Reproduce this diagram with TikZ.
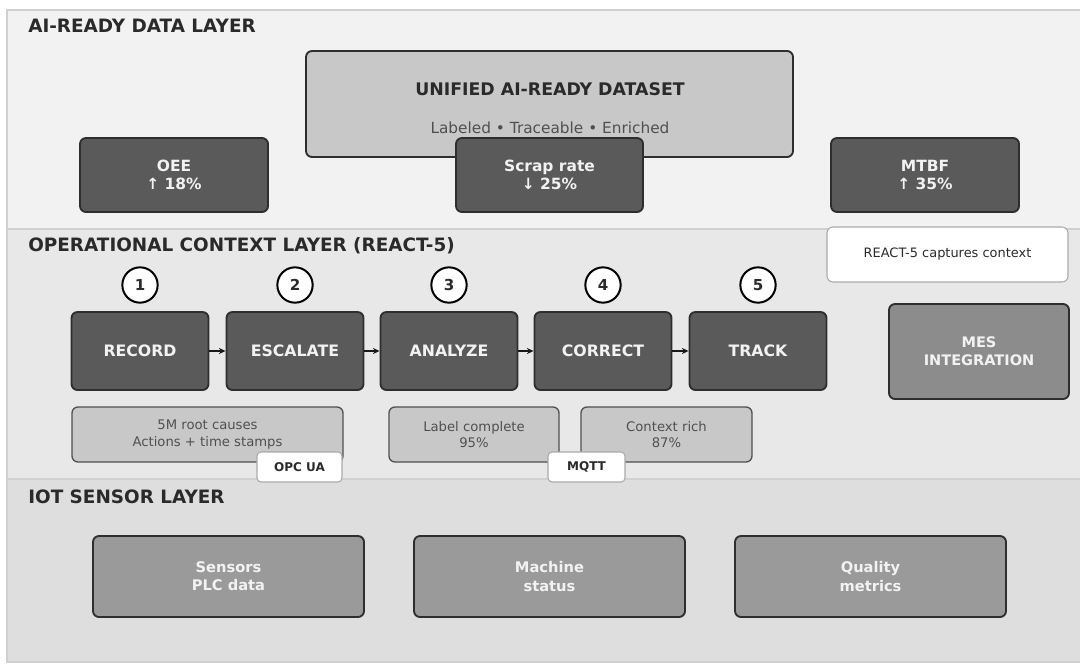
\documentclass[tikz,border=0pt]{standalone}
\usepackage{fontspec}
\setmainfont{DejaVu Sans}
\usetikzlibrary{arrows.meta}

\definecolor{bandtop}{HTML}{F2F2F2}
\definecolor{bandmid}{HTML}{E8E8E8}
\definecolor{bandlow}{HTML}{DEDEDE}
\definecolor{bandline}{HTML}{D0D0D0}
\definecolor{darkfill}{HTML}{5A5A5A}
\definecolor{midfill}{HTML}{8C8C8C}
\definecolor{lowfill}{HTML}{9A9A9A}
\definecolor{lightfill}{HTML}{C8C8C8}
\definecolor{edge}{HTML}{2E2E2E}
\definecolor{softedge}{HTML}{505050}
\definecolor{ink}{HTML}{2A2A2A}
\definecolor{softink}{HTML}{505050}
\definecolor{paleink}{HTML}{F2F2F2}
\definecolor{tagedge}{HTML}{AAAAAA}

\newcommand\fsz[2]{\fontsize{#1pt}{#2pt}\selectfont}

\tikzset{
  % place a box by its left, top, right and bottom edges (in picture units)
  span/.style n args={4}{
    minimum width={(#3-#1)*0.75pt}, minimum height={(#4-#2)*0.75pt},
    at={({(#1+#3)/2},{(#2+#4)/2})}, anchor=center},
  band/.style={fill=#1, draw=bandline, line width=0.9pt},
  layertitle/.style={anchor=base west, inner sep=0pt, text=ink, font=\fsz{13.8}{16}\bfseries},
  box/.style={rounded corners=4.5pt, inner sep=0pt, align=center, draw=edge, line width=1.4pt},
  datasetbox/.style={box, fill=lightfill},
  metric/.style={box, fill=darkfill, text=paleink, font=\fsz{11.6}{13}\bfseries},
  stepbox/.style={box, fill=darkfill, text=paleink, font=\fsz{11.8}{14}\bfseries},
  mesbox/.style={box, fill=midfill, text=paleink, font=\fsz{10.9}{13.5}\bfseries},
  sensorbox/.style={box, fill=lowfill, text=paleink, font=\fsz{11}{13.6}\bfseries},
  detailbox/.style={box, fill=lightfill, draw=softedge, line width=1pt, text=softink, font=\fsz{9.9}{12.4}},
  callout/.style={box, fill=white, draw=tagedge, line width=0.8pt, text=ink, font=\fsz{9.7}{12}},
  tag/.style={box, rounded corners=3pt, fill=white, draw=tagedge, line width=0.8pt, text=ink, font=\fsz{9}{11}\bfseries},
  stepnum/.style={circle, fill=white, draw=black, line width=1.5pt, minimum size=26.5pt, inner sep=0pt, text=ink, font=\fsz{11.3}{13}\bfseries},
  flowarrow/.style={draw=black!90, line width=1.2pt, -{Stealth[length=5pt, width=4.5pt]}},
}

\begin{document}
\begin{tikzpicture}[x=0.75pt, y=-0.75pt]
  \useasboundingbox[fill=white] (0,0) rectangle (1080,667);

  % layer bands
  \draw[band=bandtop] (7,10) rectangle (1085,229);
  \draw[band=bandmid] (7,229) rectangle (1085,479);
  \draw[band=bandlow] (7,479) rectangle (1085,662);

  \node[layertitle] (t1) at (28,33) {AI-READY DATA LAYER};
  \node[layertitle] (t2) at (28,251.5) {OPERATIONAL CONTEXT LAYER (REACT-5)};
  \node[layertitle] (t3) at (28,503.5) {IOT SENSOR LAYER};

  % AI-ready data layer
  \node[datasetbox, span={306}{51}{793}{157}] (ds) {};
  \node[inner sep=0pt, text=ink, font=\fsz{13}{15}\bfseries] (dstitle) at (550,89) {UNIFIED AI-READY DATASET};
  \node[inner sep=0pt, text=softink, font=\fsz{11.5}{14}] (dssub) at (550,128) {Labeled • Traceable • Enriched};

  \node[metric, span={80}{138}{268}{212}] (oee) {OEE\\↑ 18\%};
  \node[metric, span={456}{138}{643}{212}] (scrap) {Scrap rate\\↓ 25\%};
  \node[metric, span={831}{138}{1019}{212}] (mtbf) {MTBF\\↑ 35\%};

  % operational context layer
  \node[callout, span={827}{227}{1068}{282}] (note) {REACT-5 captures context};

  \foreach \i/\cx in {1/140,2/295,3/449,4/603,5/758}
    \node[stepnum] (n\i) at (\cx,285) {\i};

  \node[stepbox, span={71.5}{312}{208.5}{390}] (s1) {RECORD};
  \node[stepbox, span={226.5}{312}{363.5}{390}] (s2) {ESCALATE};
  \node[stepbox, span={380.5}{312}{517.5}{390}] (s3) {ANALYZE};
  \node[stepbox, span={534.5}{312}{671.5}{390}] (s4) {CORRECT};
  \node[stepbox, span={689.5}{312}{826.5}{390}] (s5) {TRACK};

  \draw[flowarrow] (s1) -- (s2);
  \draw[flowarrow] (s2) -- (s3);
  \draw[flowarrow] (s3) -- (s4);
  \draw[flowarrow] (s4) -- (s5);

  \node[mesbox, span={889}{304}{1069}{399}] (mes) {MES\\INTEGRATION};

  \node[detailbox, span={72}{407}{343}{462}] (d1) {5M root causes\\Actions + time stamps};
  \node[detailbox, span={389}{407}{559}{462}] (d2) {Label complete\\95\%};
  \node[detailbox, span={581}{407}{752}{462}] (d3) {Context rich\\87\%};

  \node[tag, span={257}{452}{342}{482}] (opc) {OPC UA};
  \node[tag, span={548}{452}{625}{482}] (mqtt) {MQTT};

  % IoT sensor layer
  \node[sensorbox, span={93}{536}{364}{617}] (sen) {Sensors\\PLC data};
  \node[sensorbox, span={414}{536}{685}{617}] (mach) {Machine\\status};
  \node[sensorbox, span={735}{536}{1006}{617}] (qual) {Quality\\metrics};
\end{tikzpicture}
\end{document}
